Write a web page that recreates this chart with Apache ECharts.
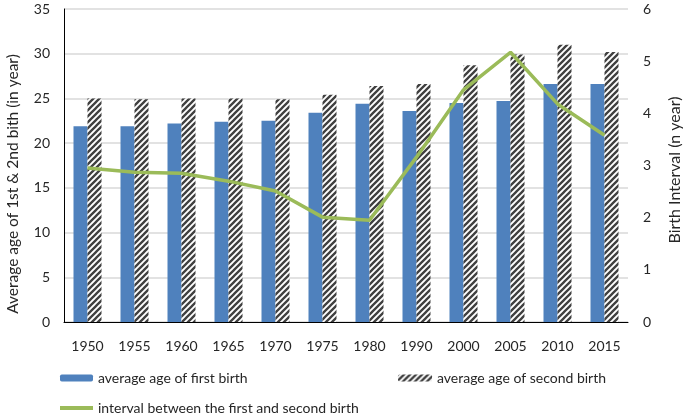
<!DOCTYPE html>
<html><head><meta charset="utf-8">
<script src="https://cdn.jsdelivr.net/npm/echarts@6/dist/echarts.min.js"></script>
<style>html,body{margin:0;padding:0;background:#fff}#c{width:685px;height:417px}</style>
</head><body><div id="c"></div>
<script>
const years = ['1950','1955','1960','1965','1970','1975','1980','1990','2000','2005','2010','2015'];
const firstBirth = [21.9,21.9,22.2,22.4,22.5,23.4,24.4,23.6,24.5,24.7,26.6,26.6];
const secondBirth = [25.0,24.9,25.0,25.0,24.9,25.4,26.4,26.6,28.7,29.9,31.0,30.2];
const interval = [2.95,2.87,2.85,2.70,2.51,2.01,1.95,3.16,4.45,5.17,4.18,3.58];
const leftTicks = {min:0,max:35,interval:5};
const rightTicks = {min:0,max:6,interval:1};

function hatch(){
  const s = 6;
  const c = document.createElement('canvas');
  c.width = s; c.height = s;
  const g = c.getContext('2d');
  g.fillStyle = '#fff'; g.fillRect(0,0,s,s);
  g.strokeStyle = '#404040'; g.lineWidth = 2.3;
  g.beginPath();
  for (let k=-s;k<=2*s;k+=s){ g.moveTo(k-1,s+1); g.lineTo(k+s+1,-1); }
  g.stroke();
  return {image:c, repeat:'repeat'};
}
const pat = hatch();
const font = 'Lato';
const txt = '#262626';
const chart = echarts.init(document.getElementById('c'));
chart.setOption({
  animation:false,
  textStyle:{fontFamily:font},
  grid:{left:64,right:57,top:9,bottom:95},
  legend:[
    {left:55,top:366,itemWidth:33,itemHeight:7,data:['average age of first birth'],textStyle:{fontSize:14,color:txt,fontFamily:font}},
    {left:393,top:366,itemWidth:34,itemHeight:7,data:['average age of second birth'],textStyle:{fontSize:14,color:txt,fontFamily:font}},
    {left:55,top:396,itemWidth:33,itemHeight:4,data:[{name:'interval between the first and second birth',icon:'rect'}],textStyle:{fontSize:14,color:txt,fontFamily:font}}
  ],
  graphic:[
    {type:'text',x:13,y:184,rotation:Math.PI/2,
     style:{text:'Average age of 1st & 2nd bith (in year)',font:'15.5px Lato',fill:txt,align:'center',verticalAlign:'middle'}},
    {type:'text',x:675,y:170,rotation:Math.PI/2,
     style:{text:'Birth Interval (n year)',font:'16px Lato',fill:txt,align:'center',verticalAlign:'middle'}}
  ],
  xAxis:{type:'category',data:years,
    axisLine:{lineStyle:{color:'#000',width:1}},axisTick:{show:false},
    axisLabel:{color:txt,fontSize:14,margin:17}},
  yAxis:[
    {type:'value',min:leftTicks.min,max:leftTicks.max,interval:leftTicks.interval,
     axisLine:{show:true,lineStyle:{color:'#000'}},
     axisLabel:{color:txt,fontSize:14,margin:14},
     splitLine:{lineStyle:{color:'#d9d9d9',width:1.5}}},
    {type:'value',min:rightTicks.min,max:rightTicks.max,interval:rightTicks.interval,
     axisLine:{show:false},
     axisLabel:{color:txt,fontSize:14,margin:15},
     splitLine:{show:false}}
  ],
  series:[
    {name:'average age of first birth',type:'bar',data:firstBirth,barWidth:14,barGap:'0%',
     itemStyle:{color:'#4F81BD'}},
    {name:'average age of second birth',type:'bar',data:secondBirth,barWidth:14,
     itemStyle:{color:pat}},
    {name:'interval between the first and second birth',type:'line',yAxisIndex:1,data:interval,
     showSymbol:false,symbol:'none',lineStyle:{color:'#9BBB59',width:3.5},itemStyle:{color:'#9BBB59'}}
  ]
});
</script></body></html>
